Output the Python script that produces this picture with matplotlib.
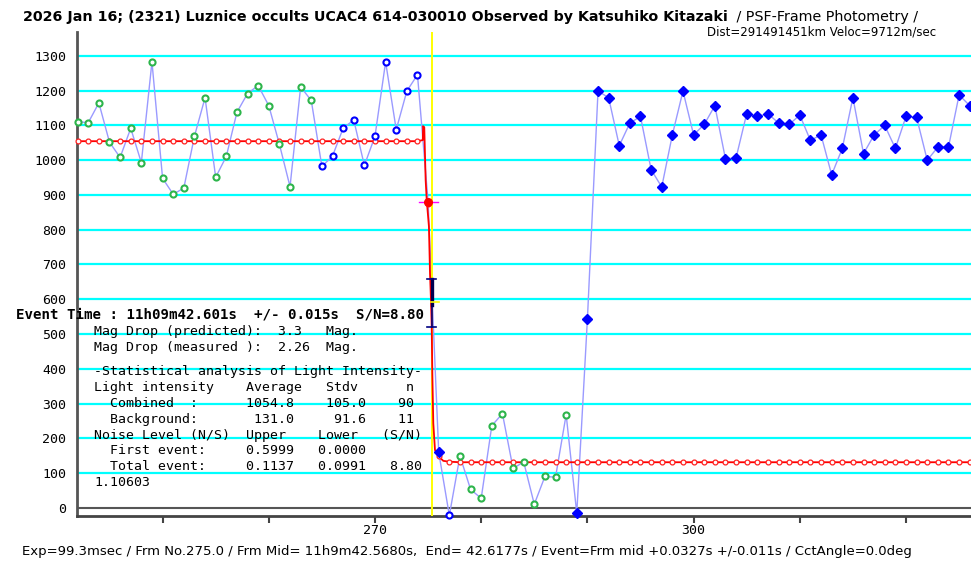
import matplotlib
matplotlib.use("Agg")
import matplotlib.pyplot as plt

# ---------------- data ----------------
frames = list(range(242, 327))
intensity = [
    1111, 1108, 1165, 1052, 1008, 1092, 993, 1283, 948, 902,      # 242-251
    920, 1069, 1180, 951, 1011, 1138, 1192, 1215, 1157, 1046,     # 252-261
    924, 1211, 1172, 982, 1012, 1092, 1116, 985, 1069, 1283,      # 262-271
    1088, 1199, 1246, 881, 160, -22, 149, 53, 27, 236,            # 272-281
    271, 113, 132, 10, 90, 88, 268, -16, 542, 1199,               # 282-291
    1180, 1042, 1107, 1126, 973, 923, 1073, 1199, 1073, 1103,     # 292-301
    1157, 1004, 1007, 1134, 1126, 1134, 1107, 1103, 1130, 1057,   # 302-311
    1073, 958, 1034, 1180, 1019, 1073, 1100, 1034, 1126, 1123,    # 312-321
    1000, 1038, 1038, 1188, 1157]                                 # 322-326

green_frames = list(range(242, 265)) + list(range(278, 289))
blue_open_frames = list(range(265, 275)) + [277]
blue_filled_frames = [276] + list(range(289, 327))
event_obs_frame = 275

# model (red) curve
model_pre = 1054.8
model_post = 131.0
trans_f = [274.0, 274.5, 274.53, 274.64, 274.77, 274.87, 275.08, 275.18,
           275.27, 275.34, 275.40, 275.49, 275.65, 275.96, 276.43, 276.97]
trans_v = [1054.8, 1058, 1098, 1095, 943, 886, 809, 675,
           598, 521, 387, 243, 166, 149, 135, 132.6]
model_marker_frames = list(range(242, 327))
model_marker_vals = [model_pre] * 33 + [873, 149, 132.6] + [model_post] * 49

event_line_frame = 275.38
errbar_frame = 275.34
errbar_lo, errbar_hi, errbar_mid = 521, 657, 593

yticks = list(range(0, 1400, 100))
xticks = [250, 260, 270, 280, 290, 300, 310, 320]
xticklabels = ["", "", "270", "", "", "300", "", ""]

title_bold = "2026 Jan 16; (2321) Luznice occults UCAC4 614-030010 Observed by Katsuhiko Kitazaki"
title_reg = " / PSF-Frame Photometry /"
title_line2 = "Dist=291491451km Veloc=9712m/sec"
event_text = "Event Time : 11h09m42.601s  +/- 0.015s  S/N=8.80"
info_lines = [
    "Mag Drop (predicted):  3.3   Mag.",
    "Mag Drop (measured ):  2.26  Mag.",
    "-Statistical analysis of Light Intensity-",
    "Light intensity    Average   Stdv      n",
    "  Combined  :      1054.8    105.0    90",
    "  Background:       131.0     91.6    11",
    "Noise Level (N/S)  Upper    Lower   (S/N)",
    "  First event:     0.5999   0.0000",
    "  Total event:     0.1137   0.0991   8.80",
    "1.10603",
]
caption = ("Exp=99.3msec / Frm No.275.0 / Frm Mid= 11h9m42.5680s,  End= 42.6177s / "
           "Event=Frm mid +0.0327s +/-0.011s / CctAngle=0.0deg")

# ---------------- figure ----------------
W, H = 971, 572
fig = plt.figure(figsize=(W / 100, H / 100), dpi=100)
fig.patch.set_facecolor("white")

ax_l, ax_r, ax_t, ax_b = 77.3, 971, 32, 516
ax = fig.add_axes([ax_l / W, (H - ax_b) / H, (ax_r - ax_l) / W, (ax_b - ax_t) / H])
ax.set_xlim(241.97, 326.12)
ax.set_ylim(-23.7, 1369)

for v in yticks[1:]:
    ax.axhline(v, color="#00FFFF", lw=1.6, zorder=1)
ax.axhline(0, color="#555555", lw=1.5, zorder=1)

ax.plot(frames, intensity, color="#9A9AFF", lw=1.0, zorder=2)
ax.axvline(event_line_frame, color="#FFFF00", lw=1.4, zorder=3)

mf = [242 + i for i in range(33)]
model_x = mf + trans_f + list(range(278, 327))
model_y = [model_pre] * 33 + trans_v + [model_post] * 49
ax.plot(model_x, model_y, color="#FF0000", lw=1.3, zorder=4)
ax.plot(model_marker_frames, model_marker_vals, ls="none", marker="o", ms=3.5,
        mfc="white", mec="#FF2020", mew=0.9, zorder=5, clip_on=False)

val = dict(zip(frames, intensity))
ax.plot(green_frames, [val[f] for f in green_frames], ls="none", marker="o", ms=4.4,
        mfc="white", mec="#2DB54B", mew=1.5, zorder=6, clip_on=False)
ax.plot(blue_open_frames, [val[f] for f in blue_open_frames], ls="none", marker="o", ms=4.4,
        mfc="white", mec="#0000FF", mew=1.5, zorder=6, clip_on=False)
ax.plot(blue_filled_frames, [val[f] for f in blue_filled_frames], ls="none", marker="D", ms=5,
        mfc="#0000FF", mec="#0000FF", zorder=6, clip_on=False)

# event frame observed point
ev = val[event_obs_frame]
ax.plot([event_obs_frame - 0.9, event_obs_frame + 0.9], [ev, ev], color="#FF00FF", lw=1.0, zorder=6)
ax.plot([event_obs_frame], [ev], marker="o", ms=5.5, color="#FF0000", zorder=7)

# error bar at event time
ax.plot([errbar_frame, errbar_frame], [errbar_lo, errbar_hi], color="#000080", lw=1.2, zorder=7)
ax.plot([errbar_frame, errbar_frame], [errbar_mid - 10, errbar_hi], color="#000050", lw=2.4, zorder=7)
for yv in (errbar_lo, errbar_hi):
    ax.plot([errbar_frame - 0.4, errbar_frame + 0.4], [yv, yv], color="#000080", lw=1.2, zorder=7)
ax.plot([errbar_frame - 0.1, errbar_frame + 0.7], [errbar_mid, errbar_mid], color="#FFFF00", lw=1.2, zorder=7)

for s in ("top", "right"):
    ax.spines[s].set_visible(False)
ax.spines["left"].set_color("#555555")
ax.spines["left"].set_linewidth(2)
ax.spines["bottom"].set_color("#444444")
ax.spines["bottom"].set_linewidth(2)

ax.set_yticks(yticks)
ax.set_yticklabels([str(v) for v in yticks], family="DejaVu Sans Mono", fontsize=9.5)
ax.tick_params(axis="y", length=0, pad=8)
ax.set_xticks(xticks)
ax.set_xticklabels(xticklabels, family="DejaVu Sans Mono", fontsize=9.5)
ax.tick_params(axis="x", length=5, width=1.5, color="#444444", direction="out", pad=1)

# ---------------- texts ----------------
renderer = fig.canvas.get_renderer()


def fit_text(x_px, y_px, s, target_w, **kw):
    t = fig.text(x_px / W, 1 - y_px / H, s, ha="left", va="center", **kw)
    w = t.get_window_extent(renderer).width
    t.set_fontsize(t.get_fontsize() * target_w / w)
    return t


fit_text(22.7, 16.5, title_bold, 704, family="DejaVu Sans", fontweight="bold", fontsize=10)
fit_text(732, 16.5, title_reg, 186, family="DejaVu Sans", fontsize=10)
fit_text(707, 32, title_line2, 228, family="DejaVu Sans", fontsize=10)
fit_text(16, 315, event_text, 409, family="DejaVu Sans Mono", fontweight="bold", fontsize=10)

line_y = [331.7, 347.7, 371.7, 387.7, 403.3, 419, 435, 450.7, 466, 482.3]
for s, y in zip(info_lines, line_y):
    fig.text(94 / W, 1 - y / H, s, ha="left", va="center",
             family="DejaVu Sans Mono", fontsize=9.5, zorder=10)

fit_text(21.7, 552, caption, 887, family="DejaVu Sans", fontsize=9)

fig.savefig("out.png", dpi=100)
